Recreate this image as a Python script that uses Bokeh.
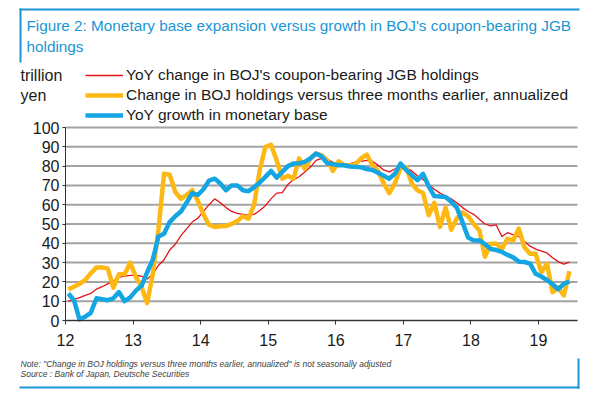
from bokeh.plotting import figure
from bokeh.models import (Label, BoxAnnotation, Legend, LegendItem, FixedTicker,
                          Range1d, ColumnDataSource)
from bokeh.embed import file_html
from bokeh.resources import INLINE

# ---------------- data (monthly, Jan-2012 .. Jun-2019, trillion yen) ----------------
month_index = list(range(90))
x_years = [12 + (i + 0.5) / 12 for i in month_index]

yoy_jgb = [10, 10.8, 11.8, 13, 14, 16.3, 17.5, 19, 20.5, 22.5, 23, 23.4,
           23.4, 23, 21.5, 24, 28.5, 31.5, 36.5, 39.5, 44, 47.5, 51, 53,
           56.5, 60, 63, 61, 58.5, 56.5, 55.5, 55, 54.5, 55, 57, 59.5,
           63, 66, 66.3, 70.5, 73, 74.5, 77, 79.5, 83, 84, 83.5, 82,
           80.5, 81, 81.3, 82, 82.5, 83, 82.5, 80.5, 78, 77, 78.5, 80,
           79, 77.5, 75, 73, 70.5, 68, 66, 64.5, 63, 61, 58.5, 56.5,
           55, 52.5, 50, 49, 49.5, 43.5, 45.5, 44.5, 43.5, 41, 38.5, 37,
           36, 35, 32.5, 30.5, 29.2, 30.3]

chg_3m_ann = [16, 17.5, 19, 21, 24.5, 27.5, 27.5, 27, 17, 24, 24, 30,
              22.5, 17.5, 9, 24, 47, 76, 75.5, 66.6, 63, 65, 67.5, 62,
              55, 49.5, 48.5, 48.8, 49, 50, 51.5, 54, 52.8, 60, 78, 90,
              91, 83, 73.5, 75, 73.5, 84, 78.5, 84, 86.5, 85.5, 83, 77.5,
              82.5, 80.5, 80.5, 81, 84, 86, 80.5, 77.5, 71, 66, 71, 79,
              79.5, 71, 67.5, 66, 54.5, 61, 48.5, 58.5, 47, 53, 56, 54,
              50, 46.7, 33, 39.8, 39.8, 37, 42.4, 41.5, 47.6, 38, 34.6, 34.6,
              25, 29.4, 14.7, 17, 13, 25.5]

mb_growth = [14, 10.5, 0.5, 2, 4, 11.5, 11, 10.5, 11.5, 14.7, 10, 12,
             15.5, 18, 25, 31.5, 43.5, 45, 51, 54, 56.5, 61, 66, 65,
             68, 72.5, 73.5, 71, 67.5, 70, 70, 67.5, 67, 69, 71.5, 74.4,
             77.5, 74, 77, 80, 81.3, 81.5, 82.2, 84, 86.5, 85, 81.5, 81,
             80.4, 80.4, 79.8, 79.6, 79.4, 78.5, 78, 76.5, 75, 73.5, 76, 81.3,
             78, 75.3, 72.7, 76, 69.5, 64.5, 64.2, 64, 61.5, 58.5, 51, 43,
             41.5, 41.5, 39.5, 37, 36.5, 35.5, 34, 32.7, 30.5, 30.3, 29.5, 24.2,
             22.8, 21, 18.8, 16.2, 19, 20.2]

x_ticks = [12, 13, 14, 15, 16, 17, 18, 19]
y_ticks = [0, 10, 20, 30, 40, 50, 60, 70, 80, 90, 100]

series_names = ["YoY change in BOJ's coupon-bearing JGB holdings",
                "Change in BOJ holdings versus three months earlier, annualized",
                "YoY growth in monetary base"]

title_lines = ["Figure 2: Monetary base expansion versus growth in BOJ's coupon-bearing JGB",
               "holdings"]
unit_lines = ["trillion", "yen"]
note_lines = ['Note: "Change in BOJ holdings versus three months earlier, annualized" is not seasonally adjusted',
              "Source : Bank of Japan, Deutsche Securities"]

# ---------------- layout geometry (pixels of the 591x393 canvas) ----------------
W, H = 591, 393
X_AXIS_END = 19.577           # right end of the x axis (data)
PX_X12 = 65.0                 # pixel of x = 12
PX_PER_YEAR = 67.57
PY_ZERO = 320.0               # pixel of y = 0
PX_PER_UNIT = 1.93

X_START = 12 - PX_X12 / PX_PER_YEAR
X_END = X_START + W / PX_PER_YEAR
Y_START = -(H - PY_ZERO) / PX_PER_UNIT
Y_END = PY_ZERO / PX_PER_UNIT


def dx(px):
    return X_START + px / PX_PER_YEAR


def dy(py):
    return (PY_ZERO - py) / PX_PER_UNIT


FONT = "Liberation Sans"
RED = "#e3131b"
GOLD = "#fdb813"
BLUE = "#14a5e3"
DB_BLUE = "#1a96d5"
TXT = "#1a1a1a"

src = ColumnDataSource(dict(x=x_years, red=yoy_jgb, gold=chg_3m_ann, blue=mb_growth))
grid_src = ColumnDataSource(dict(y=y_ticks, x0=[12] * len(y_ticks),
                                 x1=[X_AXIS_END] * len(y_ticks)))

p = figure(width=W, height=H, output_backend="svg", toolbar_location=None,
           x_range=Range1d(X_START, X_END), y_range=Range1d(Y_START, Y_END),
           min_border=0)
p.outline_line_color = None
p.background_fill_color = "white"
p.border_fill_color = "white"
p.xgrid.visible = False
p.ygrid.visible = False

# horizontal gridlines
p.segment(x0="x0", x1="x1", y0="y", y1="y", source=grid_src,
          line_color="#a3a3a3", line_width=2, level="underlay")

# axes placed at fixed data positions
p.xaxis.fixed_location = 0
p.yaxis.fixed_location = 12
p.xaxis.bounds = (12, X_AXIS_END)
p.yaxis.bounds = (0, 100)
p.yaxis.ticker = FixedTicker(ticks=y_ticks)
p.xaxis.ticker = FixedTicker(ticks=x_ticks)
p.xaxis.major_label_overrides = {t: str(t) for t in x_ticks}
for ax in (p.xaxis, p.yaxis):
    ax.major_label_text_font = FONT
    ax.major_label_text_font_size = "16px"
    ax.major_label_text_color = TXT
    ax.axis_line_color = "#333333"
    ax.major_tick_line_color = "#333333"
    ax.minor_tick_line_color = None
    ax.major_tick_in = 0
p.xaxis.major_tick_out = 4
p.xaxis.major_label_standoff = 9
p.yaxis.major_tick_out = 3
p.yaxis.major_label_standoff = 3

r_red = p.line("x", "red", source=src, line_color=RED, line_width=1.3, line_join="round")
r_gold = p.line("x", "gold", source=src, line_color=GOLD, line_width=4.5, line_join="round")
r_blue = p.line("x", "blue", source=src, line_color=BLUE, line_width=4.5, line_join="round")

legend = Legend(items=[LegendItem(label=series_names[0], renderers=[r_red]),
                       LegendItem(label=series_names[1], renderers=[r_gold]),
                       LegendItem(label=series_names[2], renderers=[r_blue])],
                location=(85, H - 125), orientation="vertical",
                glyph_width=38, glyph_height=20, label_height=20, label_standoff=3,
                spacing=0, padding=0, margin=0,
                label_text_font=FONT, label_text_font_size="15.5px", label_text_color=TXT,
                background_fill_alpha=0, border_line_alpha=0)
p.add_layout(legend, "center")

# title
for i, t in enumerate(title_lines):
    p.add_layout(Label(x=dx(26), y=dy(25 + 21 * i), text=t,
                       text_baseline="middle", text_font=FONT, text_font_size="15.3px",
                       text_color=DB_BLUE))
# unit label
for i, t in enumerate(unit_lines):
    p.add_layout(Label(x=dx(20), y=dy(75 + 20 * i), text=t,
                       text_baseline="middle", text_font=FONT, text_font_size="16px",
                       text_color=TXT))
# notes
for i, t in enumerate(note_lines):
    p.add_layout(Label(x=dx(20), y=dy(363 + 10 * i), text=t,
                       text_baseline="middle", text_font=FONT, text_font_size="8.5px",
                       text_font_style="italic", text_color="#404040"))


# Deutsche-style frame lines
def bar(l, r, t, b):
    p.add_layout(BoxAnnotation(left=dx(l), right=dx(r), top=dy(t), bottom=dy(b),
                               fill_color=DB_BLUE, fill_alpha=1, line_alpha=0,
                               level="overlay"))


bar(19, 579, 8, 10)      # top line
bar(19, 21, 8, 62)       # left vertical
bar(19, 579, 386, 388)   # bottom line
bar(577, 579, 358, 388)  # right vertical

open("out.html", "w").write(file_html(p, INLINE))
